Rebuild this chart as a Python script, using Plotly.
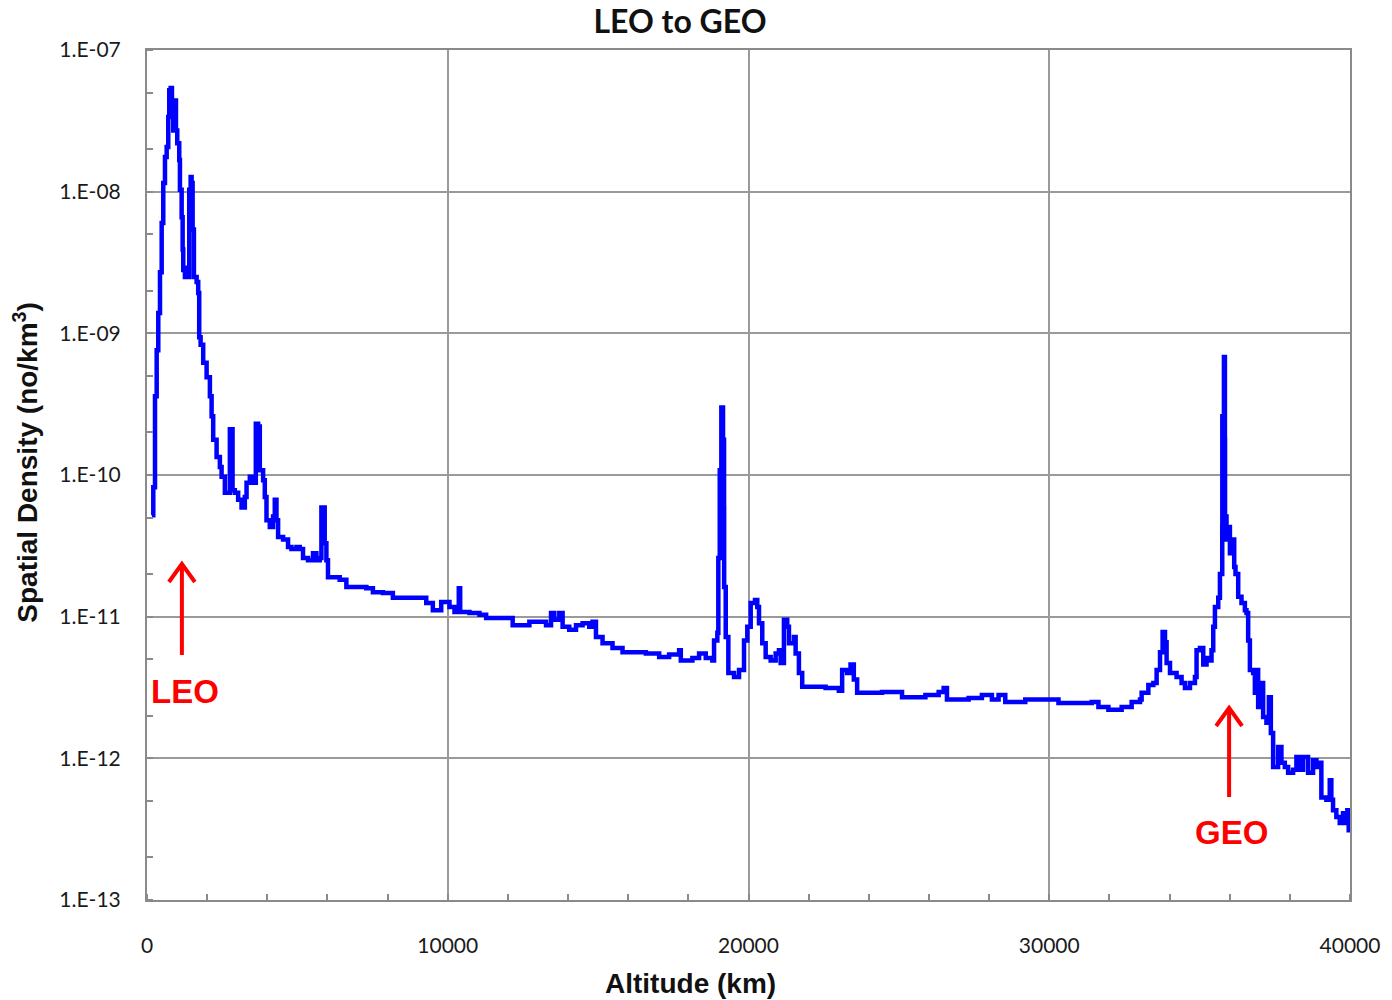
import plotly.graph_objects as go
import math

# Altitude (km)
altitude = [
    166, 209, 266, 322, 375, 432, 488, 541, 598, 654, 707, 740, 787, 830, 873, 929, 963, 1006, 1072, 1095,
    1152, 1185, 1205, 1261, 1318, 1371, 1404, 1451, 1484, 1517, 1560, 1650, 1703, 1736, 1783, 1869, 1982, 2091, 2148, 2201,
    2314, 2423, 2480, 2589, 2699, 2755, 2812, 2845, 2921, 3031, 3144, 3253, 3310, 3419, 3529, 3618, 3695, 3751, 3861, 3917,
    3973, 4083, 4193, 4249, 4305, 4359, 4525, 4690, 4803, 4969, 5079, 5188, 5354, 5520, 5633, 5743, 5799, 5852, 5909, 5965,
    6018, 6131, 6407, 6629, 7071, 7293, 7512, 7844, 8176, 8621, 8953, 9285, 9504, 9783, 10058, 10224, 10367, 10413, 10722, 11054,
    11276, 11608, 12159, 12714, 13268, 13434, 13543, 13710, 13819, 14041, 14264, 14483, 14706, 14815, 14928, 15147, 15479, 15811, 16143, 16588,
    17030, 17361, 17693, 17749, 18134, 18357, 18579, 18798, 18855, 18964, 18997, 19044, 19097, 19153, 19187, 19190, 19243, 19330, 19519, 19685,
    19851, 19960, 20073, 20216, 20292, 20349, 20458, 20571, 20737, 20903, 21012, 21069, 21178, 21288, 21345, 21511, 21567, 21676, 21786, 22118,
    22563, 23004, 23114, 23280, 23393, 23502, 23612, 24000, 24441, 25105, 25882, 26323, 26489, 26599, 27319, 27761, 28093, 28315, 28538, 29202,
    29866, 30307, 30749, 31413, 31635, 31967, 32408, 32740, 33019, 33072, 33295, 33461, 33570, 33683, 33769, 33849, 33902, 34015, 34234, 34400,
    34513, 34679, 34845, 34898, 35011, 35121, 35230, 35343, 35396, 35453, 35509, 35619, 35675, 35752, 35755, 35808, 35841, 35845, 35894, 35951,
    36007, 36060, 36117, 36150, 36193, 36283, 36392, 36505, 36558, 36614, 36671, 36780, 36837, 36890, 36946, 37056, 37112, 37222, 37302, 37368,
    37444, 37610, 37720, 37833, 37942, 38108, 38218, 38331, 38440, 38606, 38772, 38882, 38995, 39048, 39214, 39327, 39380, 39436, 39546, 39659,
    39768, 39825, 39911, 39957,
]

# Spatial density (no/km^3)
density = [
    5.2e-11, 8.2e-11, 3.6e-10, 7.6e-10, 1.39e-9, 2.7e-9, 6.0e-9, 1.15e-8, 1.76e-8, 2.07e-8, 3.37e-8, 5.2e-8, 5.4e-8, 4.4e-8, 2.7e-8, 4.4e-8, 2.7e-8, 2.2e-8, 1.67e-8, 1.03e-8,
    6.6e-9, 3.9e-9, 2.8e-9, 2.5e-9, 2.9e-9, 2.5e-9, 1.03e-8, 1.27e-8, 1.15e-8, 5.4e-9, 2.5e-9, 2.3e-9, 1.93e-9, 9.4e-10, 8.3e-10, 6.2e-10, 4.9e-10, 3.6e-10, 2.6e-10, 1.77e-10,
    1.34e-10, 1.14e-10, 9.7e-11, 7.5e-11, 7.5e-11, 2.1e-10, 2.1e-10, 7.8e-11, 7.5e-11, 6.7e-11, 5.9e-11, 7.0e-11, 8.8e-11, 9.7e-11, 8.8e-11, 2.3e-10, 2.2e-10, 1.08e-10, 9.2e-11, 7.0e-11,
    4.8e-11, 4.3e-11, 5.1e-11, 6.7e-11, 4.8e-11, 3.65e-11, 3.5e-11, 3.1e-11, 3.0e-11, 3.1e-11, 3.0e-11, 2.6e-11, 2.5e-11, 2.8e-11, 2.5e-11, 2.6e-11, 5.9e-11, 5.9e-11, 3.3e-11, 2.5e-11,
    1.9e-11, 1.9e-11, 1.82e-11, 1.62e-11, 1.62e-11, 1.59e-11, 1.49e-11, 1.47e-11, 1.36e-11, 1.36e-11, 1.36e-11, 1.25e-11, 1.11e-11, 1.27e-11, 1.17e-11, 1.08e-11, 1.59e-11, 1.08e-11, 1.06e-11, 1.03e-11,
    9.8e-12, 9.8e-12, 8.7e-12, 9.2e-12, 8.7e-12, 1.06e-11, 9.5e-12, 1.06e-11, 8.5e-12, 8.1e-12, 8.7e-12, 9.0e-12, 8.5e-12, 9.2e-12, 7.2e-12, 6.5e-12, 6.0e-12, 5.6e-12, 5.6e-12, 5.5e-12,
    5.2e-12, 5.4e-12, 5.8e-12, 4.9e-12, 5.1e-12, 5.5e-12, 5.1e-12, 4.9e-12, 6.8e-12, 7.7e-12, 2.6e-11, 1.08e-10, 3.0e-10, 1.77e-10, 5.9e-11, 1.62e-11, 7.2e-12, 4.0e-12, 3.75e-12, 4.2e-12,
    6.8e-12, 8.5e-12, 1.25e-11, 1.31e-11, 1.17e-11, 9.0e-12, 6.5e-12, 5.2e-12, 4.9e-12, 5.5e-12, 5.8e-12, 4.7e-12, 9.5e-12, 8.5e-12, 6.5e-12, 7.2e-12, 5.5e-12, 4.0e-12, 3.2e-12, 3.2e-12,
    3.14e-12, 3.0e-12, 4.2e-12, 4.0e-12, 4.6e-12, 3.6e-12, 2.9e-12, 2.9e-12, 2.94e-12, 2.7e-12, 2.8e-12, 2.94e-12, 3.14e-12, 2.6e-12, 2.67e-12, 2.8e-12, 2.6e-12, 2.8e-12, 2.5e-12, 2.6e-12,
    2.6e-12, 2.46e-12, 2.46e-12, 2.5e-12, 2.3e-12, 2.2e-12, 2.3e-12, 2.5e-12, 2.6e-12, 2.9e-12, 3.3e-12, 3.4e-12, 4.2e-12, 5.6e-12, 7.8e-12, 6.6e-12, 4.7e-12, 4.0e-12, 3.75e-12, 3.4e-12,
    3.14e-12, 3.4e-12, 3.75e-12, 5.8e-12, 6.0e-12, 4.6e-12, 5.1e-12, 4.9e-12, 5.8e-12, 8.5e-12, 1.17e-11, 1.36e-11, 2.0e-11, 4.3e-11, 2.6e-10, 6.8e-10, 1.77e-10, 5.1e-11, 3.5e-11, 4.3e-11,
    2.8e-11, 3.5e-11, 3.5e-11, 2.24e-11, 2.0e-11, 1.38e-11, 1.25e-11, 1.11e-11, 1.06e-11, 6.8e-12, 4.2e-12, 4.0e-12, 2.9e-12, 4.2e-12, 2.3e-12, 3.4e-12, 1.96e-12, 1.78e-12, 2.7e-12, 1.51e-12,
    8.7e-13, 1.2e-12, 9.3e-13, 8.7e-13, 7.9e-13, 8.3e-13, 1.02e-12, 8.3e-13, 1.02e-12, 7.9e-13, 9.7e-13, 8.7e-13, 9.3e-13, 5.3e-13, 5.1e-13, 7.0e-13, 5.1e-13, 4.3e-13, 3.85e-13, 3.5e-13,
    4.1e-13, 3.5e-13, 4.3e-13, 3.0e-13,
]

y_tick_vals = [1e-13, 1e-12, 1e-11, 1e-10, 1e-9, 1e-8, 1e-7]
y_tick_text = ["1.E-13", "1.E-12", "1.E-11", "1.E-10", "1.E-09", "1.E-08", "1.E-07"]
x_tick_vals = [0, 10000, 20000, 30000, 40000]
x_tick_text = ["0", "10000", "20000", "30000", "40000"]

# Label annotations: (altitude, density)
leo_arrow_tip = (1160, 2.43e-11)
leo_label = (1260, 2.94e-12)
geo_arrow_tip = (35980, 2.34e-12)
geo_label = (36050, 3.0e-13)

grid_col = "#9a9a9a"
tick_font = dict(family="Lato, Open Sans, sans-serif", size=21, color="#1a1a1a")
red = "#FF0000"

fig = go.Figure()
fig.add_trace(go.Scatter(
    x=altitude, y=density, mode="lines",
    line=dict(color="#0000FF", width=4.5, shape="hv"),
    showlegend=False, hoverinfo="x+y",
))


def arrow_shape(tip, length):
    # open chevron arrow, drawn in pixel units relative to its tip
    return dict(
        type="path", xref="x", yref="y",
        xsizemode="pixel", ysizemode="pixel",
        xanchor=tip[0], yanchor=tip[1],
        path=f"M 0 {-length} L 0 -2 M -13 -20 L 0 -2 L 13 -20",
        line=dict(color=red, width=4),
    )


fig.update_layout(
    width=1392, height=1000,
    margin=dict(l=147, r=40, t=50, b=100),
    paper_bgcolor="white", plot_bgcolor="white",
    title=dict(text="<b>LEO to GEO</b>", x=680 / 1392, xanchor="center",
               y=1 - 22 / 1000, yanchor="middle",
               font=dict(family="Lato, Open Sans, sans-serif", size=32, color="#111111")),
    xaxis=dict(
        range=[0, 40000], tickvals=x_tick_vals, ticktext=x_tick_text,
        showgrid=True, gridcolor=grid_col, gridwidth=1.5,
        showline=True, linecolor="#8a8a8a", linewidth=2, mirror=True,
        ticks="", tickfont=tick_font, ticklabelstandoff=26,
        minor=dict(dtick=2000, ticks="inside", ticklen=6, tickcolor="#8a8a8a", tickwidth=1.5, showgrid=False),
        zeroline=False,
    ),
    yaxis=dict(
        type="log", range=[-13, -7], tickvals=y_tick_vals, ticktext=y_tick_text,
        showgrid=True, gridcolor=grid_col, gridwidth=1.5,
        showline=True, linecolor="#8a8a8a", linewidth=2, mirror=True,
        ticks="", tickfont=tick_font, ticklabelstandoff=20,
        minor=dict(ticks="inside", ticklen=6, tickcolor="#8a8a8a", tickwidth=1.5, showgrid=False),
        zeroline=False,
    ),
    shapes=[arrow_shape(leo_arrow_tip, 93), arrow_shape(geo_arrow_tip, 91)],
    annotations=[
        dict(text="<b>Altitude (km)</b>", xref="paper", yref="paper",
             x=(691.5 - 147) / 1205, y=(900 - 983) / 850, xanchor="center", yanchor="middle",
             showarrow=False, font=dict(family="Liberation Sans, Arial, sans-serif", size=28, color="#111111")),
        dict(text="<b>Spatial Density (no/km<sup>3</sup>)</b>", xref="paper", yref="paper",
             x=(25 - 147) / 1205, y=(900 - 462.5) / 850, xanchor="center", yanchor="middle",
             textangle=-90, showarrow=False,
             font=dict(family="Liberation Sans, Arial, sans-serif", size=28, color="#111111")),
        dict(text="<b>LEO</b>", x=leo_label[0], y=math.log10(leo_label[1]), xref="x", yref="y",
             showarrow=False, xanchor="center", yanchor="middle",
             font=dict(family="Liberation Sans, Arial, sans-serif", size=33, color=red)),
        dict(text="<b>GEO</b>", x=geo_label[0], y=math.log10(geo_label[1]), xref="x", yref="y",
             showarrow=False, xanchor="center", yanchor="middle",
             font=dict(family="Liberation Sans, Arial, sans-serif", size=33, color=red)),
    ],
)

fig.write_html("out.html")
